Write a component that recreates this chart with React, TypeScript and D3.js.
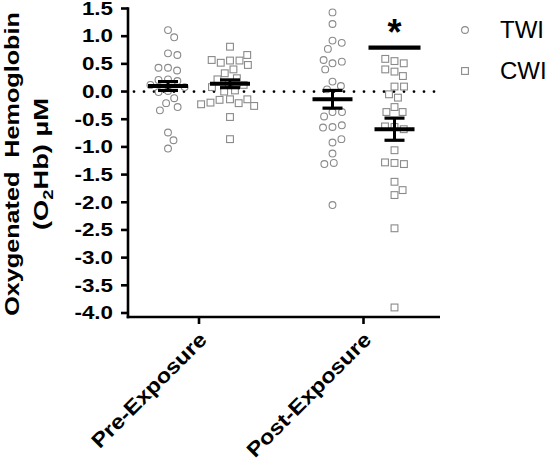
import { useEffect, useRef } from 'react'
import * as d3 from 'd3'

const W = 550, H = 469
const FONT = 'Liberation Sans, Arial, Helvetica, sans-serif'

const CATEGORIES = ['Pre-Exposure', 'Post-Exposure']
const SERIES = ['TWI', 'CWI']

// individual participant values (µM)
const TWI_PRE = [1.11, 0.98, 0.69, 0.66, 0.43, 0.38, 0.43, 0.22, 0.19, 0.21, 0.12, 0.08, 0.01, -0.01,
  -0.12, -0.21, -0.28, -0.34, -0.74, -0.88, -1.03]
const CWI_PRE = [0.81, 0.56, 0.56, 0.52, 0.48, 0.57, 0.66, 0.40, 0.33, 0.24, 0.22, 0.15, 0.12, 0.08,
  0.02, 0.0, -0.14, -0.21, -0.15, -0.14, -0.20, -0.26, -0.23, -0.46, -0.86]
const TWI_POST = [1.43, 1.22, 0.92, 0.88, 0.77, 0.51, 0.54, 0.57, 0.40, 0.18, 0.10, 0.04, -0.37, -0.37,
  -0.45, -0.64, -0.61, -0.65, -0.92, -0.86, -1.12, -1.29, -1.31, -2.05]
const CWI_POST = [0.55, 0.51, 0.59, 0.36, 0.40, 0.28, 0.09, 0.09, -0.05, -0.11, -0.28, -0.37, -0.37,
  -0.64, -0.68, -0.63, -1.06, -1.29, -1.31, -1.28, -1.63, -1.87, -1.78, -2.47, -3.90]

// mean ± SEM per category
const TWI_MEAN = [0.10, -0.14]
const TWI_SEM = [0.08, 0.16]
const CWI_MEAN = [0.14, -0.68]
const CWI_SEM = [0.07, 0.20]

const Y_TICKS = [1.5, 1.0, 0.5, 0.0, -0.5, -1.0, -1.5, -2.0, -2.5, -3.0, -3.5, -4.0]

const GROUPS = [
  { series: 'TWI', cat: 'Pre-Exposure',  values: TWI_PRE,  mean: TWI_MEAN[0], sem: TWI_SEM[0] },
  { series: 'CWI', cat: 'Pre-Exposure',  values: CWI_PRE,  mean: CWI_MEAN[0], sem: CWI_SEM[0] },
  { series: 'TWI', cat: 'Post-Exposure', values: TWI_POST, mean: TWI_MEAN[1], sem: TWI_SEM[1] },
  { series: 'CWI', cat: 'Post-Exposure', values: CWI_POST, mean: CWI_MEAN[1], sem: CWI_SEM[1] },
]

// simple beeswarm: each point goes to the free slot closest to the column centre
function swarm(ys: number[], d: number): number[] {
  const placed: { x: number; y: number }[] = []
  return ys.map(py => {
    const near = placed.filter(p => Math.abs(p.y - py) < d)
    const cands = [0]
    near.forEach(p => {
      const dx = Math.sqrt(d * d - (p.y - py) ** 2)
      cands.push(p.x + dx, p.x - dx)
    })
    cands.sort((a, b) => Math.abs(a) - Math.abs(b))
    const ok = cands.find(cx => near.every(p => Math.hypot(p.x - cx, p.y - py) >= d - 0.01)) ?? 0
    placed.push({ x: ok, y: py })
    return ok
  })
}

export default function App() {
  const svgRef = useRef<SVGSVGElement>(null)

  useEffect(() => {
    const svg = d3.select(svgRef.current!)
    svg.selectAll('*').remove()

    const y = d3.scaleLinear().domain([-4, 1.5]).range([313, 8.5])
    const x = d3.scalePoint<string>().domain(CATEGORIES).range([199, 363.5])
    const off = d3.scalePoint<string>().domain(SERIES).range([-31, 31])
    const X0 = 128, X1 = 440, YB = 317

    // ── zero reference ────────────────────────────────────────────────────
    svg.append('line')
      .attr('x1', X0 + 6).attr('x2', X1).attr('y1', y(0)).attr('y2', y(0))
      .attr('stroke', '#000').attr('stroke-width', 2.8)
      .attr('stroke-linecap', 'round').attr('stroke-dasharray', '0 10')

    // ── points ────────────────────────────────────────────────────────────
    GROUPS.forEach(gr => {
      const cx = x(gr.cat)! + off(gr.series)!
      const pys = gr.values.map(v => y(v))
      const dxs = swarm(pys, 9.5)
      const g = svg.append('g')
      gr.values.forEach((_, i) => {
        if (gr.series === 'TWI') {
          g.append('circle').attr('cx', cx + dxs[i]).attr('cy', pys[i]).attr('r', 3.4)
            .attr('fill', '#fff').attr('stroke', '#8a8a8a').attr('stroke-width', 1.1)
        } else {
          g.append('rect').attr('x', cx + dxs[i] - 3.4).attr('y', pys[i] - 3.4)
            .attr('width', 6.8).attr('height', 6.8)
            .attr('fill', '#fff').attr('stroke', '#8a8a8a').attr('stroke-width', 1.1)
        }
      })
    })

    // ── mean ± SEM ────────────────────────────────────────────────────────
    GROUPS.forEach(gr => {
      const cx = x(gr.cat)! + off(gr.series)!
      const g = svg.append('g').attr('stroke', '#000')
      g.append('line').attr('x1', cx).attr('x2', cx)
        .attr('y1', y(gr.mean + gr.sem)).attr('y2', y(gr.mean - gr.sem)).attr('stroke-width', 3)
      ;[gr.mean + gr.sem, gr.mean - gr.sem].forEach(v =>
        g.append('line').attr('x1', cx - 10).attr('x2', cx + 10)
          .attr('y1', y(v)).attr('y2', y(v)).attr('stroke-width', 3.2))
      g.append('line').attr('x1', cx - 20).attr('x2', cx + 20)
        .attr('y1', y(gr.mean)).attr('y2', y(gr.mean)).attr('stroke-width', 4)
    })

    // ── significance marker over post-exposure CWI ────────────────────────
    const sx = x('Post-Exposure')! + off('CWI')!
    svg.append('line').attr('x1', sx - 26).attr('x2', sx + 26)
      .attr('y1', 47.7).attr('y2', 47.7).attr('stroke', '#000').attr('stroke-width', 4.2)
    svg.append('text').attr('x', sx).attr('y', 45).attr('text-anchor', 'middle')
      .attr('font-family', FONT).attr('font-weight', 700).attr('font-size', 36).text('*')

    // ── axes ──────────────────────────────────────────────────────────────
    const ax = svg.append('g').attr('stroke', '#000').attr('stroke-width', 2.6)
    ax.append('line').attr('x1', X0).attr('x2', X0).attr('y1', y(1.5) - 1.3).attr('y2', YB + 1.3)
    ax.append('line').attr('x1', X0 - 1.3).attr('x2', X1).attr('y1', YB).attr('y2', YB)
    Y_TICKS.forEach(t =>
      ax.append('line').attr('x1', X0 - 7).attr('x2', X0).attr('y1', y(t)).attr('y2', y(t)))
    CATEGORIES.forEach(c =>
      ax.append('line').attr('x1', x(c)!).attr('x2', x(c)!).attr('y1', YB).attr('y2', YB + 7))

    svg.append('g').selectAll('text').data(Y_TICKS).join('text')
      .attr('transform', d => `translate(113,${y(d) + 6.3}) scale(1.28,1)`)
      .attr('text-anchor', 'end').attr('font-family', FONT).attr('font-weight', 700)
      .attr('font-size', 17.5).attr('fill', '#000')
      .text(d => d.toFixed(1))

    svg.append('g').selectAll('text').data(CATEGORIES).join('text')
      .attr('transform', d => `translate(${x(d)! + 9},341) rotate(-45) scale(1.15,1)`)
      .attr('text-anchor', 'end').attr('font-family', FONT).attr('font-weight', 700)
      .attr('font-size', 20.5).attr('fill', '#000')
      .text(d => d)

    // ── y title ───────────────────────────────────────────────────────────
    svg.append('text')
      .attr('transform', 'translate(19,164) rotate(-90) scale(1.2,1)')
      .attr('text-anchor', 'middle').attr('font-family', FONT).attr('font-weight', 700)
      .attr('font-size', 21).attr('xml:space', 'preserve')
      .text('Oxygenated  Hemoglobin')
    const t2 = svg.append('text')
      .attr('transform', 'translate(48,164) rotate(-90) scale(1.3,1)')
      .attr('text-anchor', 'middle').attr('font-family', FONT).attr('font-weight', 700)
      .attr('font-size', 21)
    t2.append('tspan').text('(O')
    t2.append('tspan').attr('font-size', 14).attr('dy', 5).text('2')
    t2.append('tspan').attr('dy', -5).text('Hb) µM')

    // ── legend ────────────────────────────────────────────────────────────
    const lg = svg.append('g')
    lg.append('circle').attr('cx', 465).attr('cy', 30).attr('r', 3.4)
      .attr('fill', '#fff').attr('stroke', '#8a8a8a').attr('stroke-width', 1.1)
    lg.append('rect').attr('x', 461.6).attr('y', 67.6).attr('width', 6.8).attr('height', 6.8)
      .attr('fill', '#fff').attr('stroke', '#8a8a8a').attr('stroke-width', 1.1)
    SERIES.forEach((s, i) =>
      lg.append('text').attr('x', 500).attr('y', 38 + i * 41)
        .attr('font-family', FONT).attr('font-size', 24).attr('fill', '#000').text(s))
  }, [])

  return (
    <svg
      ref={svgRef}
      width={W}
      height={H}
      viewBox={`0 0 ${W} ${H}`}
      style={{ position: 'absolute', left: 0, top: 0, background: '#fff' }}
    />
  )
}
